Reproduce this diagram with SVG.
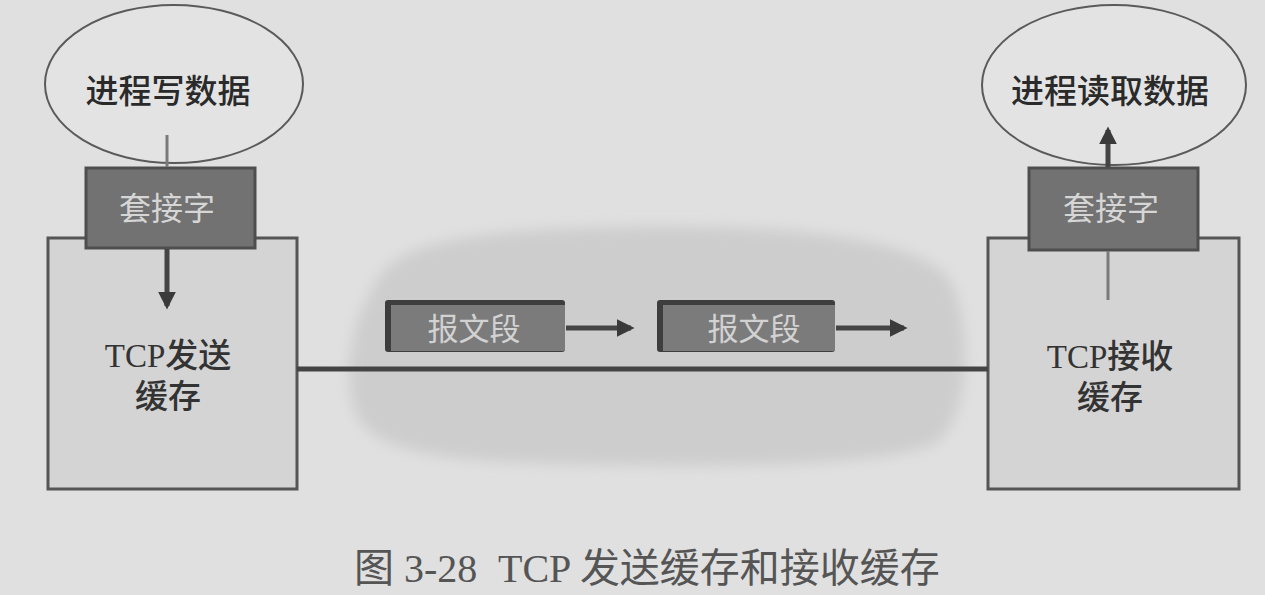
<svg xmlns="http://www.w3.org/2000/svg" width="1265" height="595" viewBox="0 0 1265 595">
<defs>
<style>
.cjk{font-family:"Liberation Serif","Noto Sans CJK SC",serif;text-anchor:middle}
.dark{fill:#2a2a2a}
.proc{font-size:33px;font-weight:500}
.sock{font-size:32px;fill:#d6d6d6}
.buf{font-size:33px;fill:#333;font-weight:500}
.seg{font-size:31px;fill:#d2d2d2}
.cap{font-size:40px;fill:#555;font-family:"Liberation Serif","Noto Sans CJK SC",serif}
.ell{fill:#e3e3e3;stroke:#5a5a5a;stroke-width:2}
.sockbox{fill:#727272;stroke:#4e4e4e;stroke-width:3}
.tcpbox{fill:#d4d4d4;stroke:#555;stroke-width:3}
.segdark{fill:#3e3e3e}
.segfill{fill:#7b7b7b}
.thin{stroke:#7a7a7a;stroke-width:3;fill:none}
.thick{stroke:#444;stroke-width:5;fill:none}
</style>
<marker id="ah" viewBox="0 0 10 10" refX="8" refY="5" markerWidth="3.6" markerHeight="3.6" orient="auto">
<path d="M0,0 L10,5 L0,10 z" fill="#3a3a3a"/>
</marker>
<filter id="soft" x="-10%" y="-10%" width="120%" height="120%"><feGaussianBlur stdDeviation="7"/></filter>
</defs>
<rect width="1265" height="595" fill="#e0e0e0"/>
<g id="cloud">
<path d="M 372 292 C 385 242, 470 230, 620 227 C 780 224, 925 236, 952 284 C 972 330, 970 410, 940 440 C 900 468, 700 468, 560 464 C 430 461, 362 450, 352 402 C 344 360, 356 312, 372 292 Z" fill="#cdcdcd" filter="url(#soft)"/>
</g>
<g id="left-process">
<ellipse class="ell" cx="174" cy="84" rx="129" ry="79"/>
<text class="cjk proc dark" x="168" y="103">进程写数据</text>
</g>
<g id="left-buffer">
<rect class="tcpbox" x="48" y="238" width="249" height="251"/>
<text class="cjk buf" x="168" y="367">TCP发送</text>
<text class="cjk buf" x="168" y="408">缓存</text>
</g>
<g id="left-socket">
<rect class="sockbox" x="86" y="168" width="169" height="80"/>
<text class="cjk sock" x="167" y="220">套接字</text>
</g>
<g id="right-process">
<ellipse class="ell" cx="1114" cy="85" rx="132" ry="80"/>
<text class="cjk proc dark" x="1110" y="103">进程读取数据</text>
</g>
<g id="right-buffer">
<rect class="tcpbox" x="988" y="238" width="251" height="251"/>
<text class="cjk buf" x="1110" y="368">TCP接收</text>
<text class="cjk buf" x="1110" y="409">缓存</text>
</g>
<g id="right-socket">
<rect class="sockbox" x="1029" y="168" width="169" height="82"/>
<text class="cjk sock" x="1111" y="220">套接字</text>
</g>
<g id="segment-1">
<rect class="segdark" x="385" y="300" width="180" height="52" rx="3"/>
<rect class="segfill" x="391" y="305" width="174" height="46"/>
<text class="cjk seg" x="474" y="340">报文段</text>
</g>
<g id="segment-2">
<rect class="segdark" x="657" y="300" width="178" height="52" rx="3"/>
<rect class="segfill" x="663" y="305" width="172" height="46"/>
<text class="cjk seg" x="754" y="340">报文段</text>
</g>
<g id="connectors">
<line class="thin" x1="167" y1="135" x2="167" y2="167"/>
<line class="thick" x1="167" y1="249" x2="167" y2="306" marker-end="url(#ah)"/>
<line class="thin" x1="1108" y1="300" x2="1108" y2="251"/>
<line class="thick" x1="1108" y1="167" x2="1108" y2="130" marker-end="url(#ah)"/>
<line class="thick" x1="297" y1="369" x2="988" y2="369" stroke="#4a4a4a"/>
<line class="thick" x1="566" y1="328" x2="631" y2="328" marker-end="url(#ah)"/>
<line class="thick" x1="836" y1="328" x2="904" y2="328" marker-end="url(#ah)"/>
</g>
<g id="caption">
<text class="cap" x="354" y="582">图 3-28<tspan x="498">TCP 发送缓存和接收缓存</tspan></text>
</g>
</svg>
